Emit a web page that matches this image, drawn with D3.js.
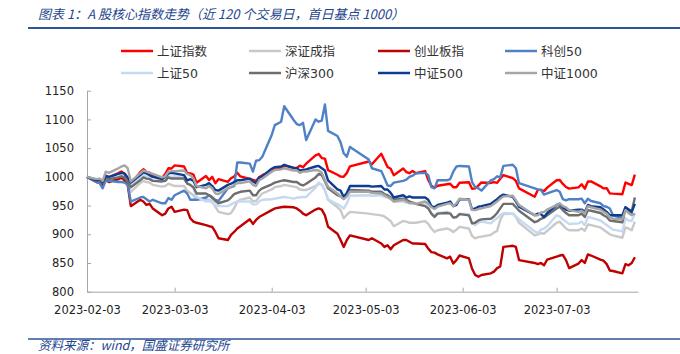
<!DOCTYPE html>
<html>
<head>
<meta charset="utf-8">
<script src="https://cdn.jsdelivr.net/npm/d3@7/dist/d3.min.js"></script>
<style>
  body { margin: 0; background: #fff; }
  svg text { font-family: "DejaVu Sans", "Noto Sans CJK SC", sans-serif; }
</style>
</head>
<body>
<div id="chart"></div>
<script>
// trading calendar: weekdays between first and last day, minus exchange holidays
const firstDay = "2023-02-03";
const lastDay = "2023-07-28";
const holidays = ["2023-04-05", "2023-05-01", "2023-05-02", "2023-05-03", "2023-06-22", "2023-06-23"];
const tickDates = ["2023-02-03", "2023-03-03", "2023-04-03", "2023-05-03", "2023-06-03", "2023-07-03"];
const yTicks = [800, 850, 900, 950, 1000, 1050, 1100, 1150];

const seriesNames = ["上证指数", "深证成指", "创业板指", "科创50", "上证50", "沪深300", "中证500", "中证1000"];
const seriesColors = ["#ff0000", "#c9c9c9", "#c00000", "#4f81c7", "#c5d9f1", "#6e6e6e", "#0d3d92", "#a5a5a5"];

const shIndex = [
  1000, 992.4, 995.3, 990.4, 1002.1, 999.2, 1006.4, 1009.2, 1005.2, 995.6,
  987.9, 1008.2, 1013.2, 1008.5, 1007.4, 1001.2, 998.3, 1005.0, 1015.0, 1014.5,
  1019.9, 1018.0, 1006.6, 1006.1, 1003.9, 989.8, 1001.6, 994.4, 1000.0, 988.8,
  996.0, 991.3, 997.6, 1000.7, 1007.1, 1000.7, 996.3, 994.5, 992.8, 999.3,
  1002.9, 1010.1, 1015.1, 1014.8, 1019.7, 1015.9, 1015.4, 1019.5, 1016.8, 1022.9,
  1037.4, 1039.8, 1032.7, 1031.7, 1011.6, 1003.7, 1000.4, 1000.2, 1006.9, 1018.3,
  1026.7, 1021.8, 1040.3, 1028.9, 1017.1, 1014.1, 1002.7, 1014.5, 1008.4, 1006.4,
  1010.4, 1006.2, 1010.1, 994.7, 984.4, 981.0, 984.4, 987.1, 988.0, 982.0,
  982.0, 989.8, 990.5, 979.2, 979.9, 984.8, 990.2, 989.4, 990.9, 989.5,
  996.8, 1003.0, 997.7, 992.9, 979.9, 965.4, 977.3, 977.3, 975.2, 981.2,
  994.1, 994.5, 987.6, 982.3, 979.5, 981.7, 987.1, 979.4, 991.8, 992.2,
  983.5, 979.9, 980.2, 971.2, 970.7, 969.6, 990.2, 987.7, 985.7, 1003.8
];
const szComponent = [
  1000, 993, 991, 989, 995, 993, 995, 997, 994, 986,
  974, 989, 993, 991, 990, 986, 983, 984, 988, 986,
  984, 984, 976, 972, 968, 960, 961, 960, 957, 948,
  939, 935, 937, 945, 957, 960, 964, 957, 958, 965,
  971, 978, 982, 984, 986, 983, 982, 978, 977, 977,
  984, 988, 987, 977, 960, 947, 942, 928, 934, 939,
  936, 935, 933, 931, 927, 923, 914, 923, 922, 920,
  920, 920, 923, 918, 910, 904, 907, 910, 908, 904,
  908, 913, 910, 897, 893, 895, 896, 899, 903, 906,
  925, 935, 936, 930, 920, 898, 900, 902, 901, 906,
  920, 922, 916, 910, 907, 907, 910, 906, 917, 916,
  912, 908, 904, 900, 898, 894, 912, 910, 907, 922
];
const chiNext = [
  1000, 991, 990, 986, 994, 991, 996, 999, 994, 986,
  949, 960, 957, 951, 953, 945, 933, 936, 945, 948,
  939, 943, 942, 928, 922, 920, 916, 914, 913, 904,
  893, 890, 899, 904, 910, 914, 926, 918, 925, 930,
  933, 942, 945, 947, 948, 947, 945, 941, 936, 933,
  943, 945, 943, 933, 913, 901, 890, 878, 890, 898,
  890, 893, 884, 878, 881, 874, 881, 890, 890, 887,
  884, 884, 883, 875, 869, 868, 865, 858, 861, 849,
  855, 863, 858, 840, 829, 826, 829, 832, 835, 841,
  844, 878, 880, 878, 855, 850, 848, 850, 846, 856,
  861, 863, 864, 855, 841, 849, 855, 850, 865, 863,
  856, 854, 848, 837, 836, 832, 848, 846, 850, 860
];
const star50 = [
  1000, 991, 989, 980, 994, 993, 991, 991, 990, 986,
  957, 964, 965, 961, 957, 960, 954, 954, 963, 960,
  968, 976, 971, 960, 960, 960, 964, 968, 963, 960,
  958, 980, 982, 984, 1025, 1025, 1023, 1009, 1028, 1029,
  1035, 1073, 1090, 1096, 1123, 1099, 1092, 1090, 1094, 1064,
  1100, 1096, 1098, 1126, 1080, 1071, 1060, 1041, 1035, 1052,
  1030, 1015, 1010, 998, 985, 984, 990, 993, 995, 1000,
  1002, 1006, 1007, 1003, 982, 980, 994, 994, 996, 1009,
  1018, 1019, 1018, 991, 982, 980, 976, 994, 996, 1001,
  999, 1019, 1021, 1015, 989, 980, 978, 977, 969, 971,
  977, 974, 961, 959, 961, 961, 962, 954, 962, 958,
  954, 949, 948, 945, 933, 928, 947, 942, 936, 933
];
const sse50 = [
  1000, 996, 994, 991, 999, 997, 1000, 1003, 999, 994,
  986, 999, 1003, 1000, 999, 994, 993, 996, 1001, 1000,
  1001, 1000, 990, 985, 980, 965, 957, 958, 955, 951,
  949, 949, 952, 955, 957, 957, 957, 952, 952, 957,
  960, 961, 962, 964, 965, 962, 964, 964, 965, 965,
  981, 990, 986, 976, 961, 952, 949, 945, 954, 967,
  968, 967, 968, 965, 964, 961, 957, 957, 955, 957,
  955, 954, 953, 947, 936, 933, 937, 939, 937, 929,
  930, 936, 935, 919, 916, 920, 922, 919, 924, 928,
  933, 937, 936, 931, 926, 905, 902, 908, 910, 914,
  933, 931, 926, 922, 918, 919, 922, 916, 930, 929,
  924, 920, 916, 912, 908, 905, 928, 924, 923, 936
];
const csi300 = [
  1000, 994, 993, 990, 997, 996, 999, 1001, 999, 992,
  982, 994, 999, 997, 996, 993, 992, 993, 999, 997,
  997, 997, 988, 986, 982, 971, 971, 968, 965, 958,
  954, 959, 964, 970, 972, 974, 976, 968, 968, 976,
  980, 987, 990, 993, 994, 991, 991, 987, 985, 988,
  999, 1005, 1003, 992, 980, 968, 966, 962, 970, 977,
  976, 974, 974, 970, 968, 964, 960, 962, 960, 957,
  955, 953, 949, 945, 936, 930, 936, 937, 936, 929,
  930, 935, 933, 919, 920, 924, 926, 927, 931, 937,
  945, 953, 953, 947, 941, 921, 923, 927, 929, 933,
  945, 948, 942, 937, 933, 933, 936, 930, 942, 941,
  937, 933, 930, 924, 923, 921, 945, 943, 940, 964
];
const csi500 = [
  1000, 994, 996, 991, 1001, 1000, 1005, 1007, 1006, 999,
  990, 1003, 1008, 1006, 1003, 1000, 996, 1000, 1006, 1007,
  1006, 1003, 994, 996, 993, 982, 986, 989, 984, 977,
  976, 986, 988, 991, 994, 994, 997, 992, 989, 999,
  1001, 1014, 1017, 1018, 1021, 1015, 1015, 1011, 1012, 1013,
  1018, 1019, 1015, 1011, 994, 978, 976, 965, 972, 984,
  984, 983, 984, 978, 978, 972, 964, 968, 964, 966,
  964, 964, 964, 960, 949, 947, 951, 955, 957, 949,
  951, 961, 961, 943, 945, 948, 949, 953, 957, 961,
  966, 969, 965, 957, 948, 933, 936, 935, 930, 937,
  951, 953, 947, 943, 941, 943, 943, 939, 951, 949,
  947, 943, 939, 933, 933, 933, 947, 943, 939, 953
];
const csi1000 = [
  1000, 996, 997, 993, 1009, 1007, 1015, 1018, 1020, 1015,
  992, 1006, 1011, 1009, 1007, 1005, 999, 1001, 1009, 1010,
  1010, 1011, 1005, 1003, 997, 984, 980, 984, 980, 971,
  970, 980, 982, 986, 989, 989, 992, 986, 984, 994,
  997, 1009, 1012, 1013, 1015, 1011, 1011, 1007, 1009, 1009,
  1012, 1011, 1007, 994, 983, 971, 966, 961, 966, 974,
  974, 972, 971, 968, 965, 962, 957, 960, 957, 954,
  954, 953, 957, 953, 947, 944, 948, 953, 954, 949,
  954, 962, 960, 942, 942, 944, 945, 949, 953, 957,
  962, 966, 967, 959, 951, 933, 933, 938, 939, 943,
  951, 954, 949, 947, 942, 939, 941, 936, 949, 947,
  943, 939, 936, 930, 927, 926, 942, 937, 933, 936
];

const seriesValues = [shIndex, szComponent, chiNext, star50, sse50, csi300, csi500, csi1000];

const parseDate = d3.timeParse("%Y-%m-%d");
const fmtDate = d3.timeFormat("%Y-%m-%d");

// build trading days
const tradingDays = d3.timeDays(parseDate(firstDay), d3.timeDay.offset(parseDate(lastDay), 1))
    .filter(d => d.getDay() !== 0 && d.getDay() !== 6 && !holidays.includes(fmtDate(d)));

const W = 680, H = 354;
const svg = d3.select("#chart").append("svg")
    .attr("width", W)
    .attr("height", H);

// title + rule
svg.append("text")
    .attr("x", 38)
    .attr("y", 19)
    .attr("fill", "#24468c")
    .style("font-size", "13px")
    .style("font-style", "italic")
    .style("font-family", "'Noto Sans CJK SC', sans-serif")
    .text("图表 1：A 股核心指数走势（近 120 个交易日，首日基点 1000）");

svg.append("line")
    .attr("x1", 28).attr("x2", W)
    .attr("y1", 28).attr("y2", 28)
    .attr("stroke", "#2e5597")
    .attr("stroke-width", 2);

// scales
const x = d3.scaleTime()
    .domain([parseDate(firstDay), parseDate("2023-07-29")])
    .range([87, 638]);

const y = d3.scaleLinear()
    .domain([800, 1150])
    .range([291.7, 90.7]);

// axes
const xAxis = svg.append("g")
    .attr("transform", "translate(0,291.7)")
    .call(d3.axisBottom(x)
        .tickValues(tickDates.map(parseDate))
        .tickFormat(fmtDate)
        .tickSizeInner(-4)
        .tickSizeOuter(0)
        .tickPadding(14));

const yAxis = svg.append("g")
    .attr("transform", "translate(87,0)")
    .call(d3.axisLeft(y)
        .tickValues(yTicks)
        .tickFormat(d3.format("d"))
        .tickSizeInner(-4)
        .tickSizeOuter(0)
        .tickPadding(13));

[xAxis, yAxis].forEach(g => {
    g.select(".domain").attr("stroke", "#a6a6a6");
    g.selectAll(".tick line").attr("stroke", "#a6a6a6");
    g.selectAll(".tick text")
        .attr("fill", "#222")
        .style("font-size", "11.5px")
        .style("font-family", "'DejaVu Sans', sans-serif");
});

// lines
const line = d3.line()
    .x((d, i) => x(tradingDays[i]))
    .y(d => y(d));

svg.append("g")
    .selectAll("path")
    .data(seriesValues)
    .enter()
    .append("path")
    .attr("fill", "none")
    .attr("stroke", (d, i) => seriesColors[i])
    .attr("stroke-width", 2.4)
    .attr("stroke-linejoin", "round")
    .attr("d", d => line(d));

// legend, 2 rows x 4 columns
const legendX = [121, 249, 378, 505];
const legendY = [51, 73];

const legend = svg.append("g")
    .selectAll("g")
    .data(seriesNames)
    .enter()
    .append("g")
    .attr("transform", (d, i) => `translate(${legendX[i % 4]},${legendY[Math.floor(i / 4)]})`);

legend.append("line")
    .attr("x1", 0).attr("x2", 32)
    .attr("stroke", (d, i) => seriesColors[i])
    .attr("stroke-width", 2.5);

legend.append("text")
    .attr("x", 36)
    .attr("y", 4.5)
    .attr("fill", "#333")
    .style("font-size", "12.5px")
    .text(d => d);

// source note
svg.append("line")
    .attr("x1", 28).attr("x2", W)
    .attr("y1", 339).attr("y2", 339)
    .attr("stroke", "#2e5597")
    .attr("stroke-width", 1.5);

svg.append("text")
    .attr("x", 38)
    .attr("y", 350)
    .attr("fill", "#24468c")
    .style("font-size", "12.5px")
    .style("font-style", "italic")
    .style("font-family", "'Noto Sans CJK SC', sans-serif")
    .text("资料来源：wind，国盛证券研究所");
</script>
</body>
</html>
